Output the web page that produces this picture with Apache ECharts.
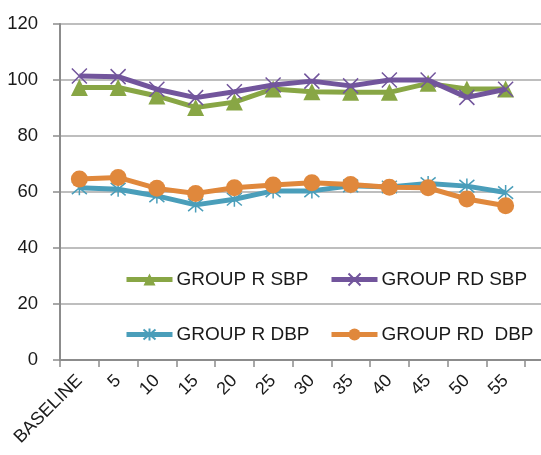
<!DOCTYPE html>
<html><head><meta charset="utf-8">
<script src="https://cdn.jsdelivr.net/npm/echarts@6/dist/echarts.min.js"></script>
<style>html,body{margin:0;padding:0;background:#fff}#c{width:541px;height:455px}</style>
</head><body><div id="c"></div>
<script>
var categories = ['BASELINE','5','10','15','20','25','30','35','40','45','50','55'];
var groupRSBP  = [97.3, 97.3, 94.3, 90.2, 92.1, 96.8, 95.8, 95.6, 95.6, 98.8, 96.8, 96.8];
var groupRDSBP = [101.4, 101.2, 96.7, 93.7, 95.8, 98.2, 99.6, 97.9, 100.0, 100.0, 93.8, 96.7];
var groupRDBP  = [61.5, 61.0, 58.6, 55.4, 57.4, 60.4, 60.4, 62.2, 61.8, 63.0, 62.1, 59.8];
var groupRDDBP = [64.6, 65.2, 61.3, 59.5, 61.5, 62.5, 63.3, 62.7, 61.7, 61.5, 57.5, 55.1];
var yTicks = [0, 20, 40, 60, 80, 100, 120];

var FONT = '"Liberation Sans Narrow","Arial Narrow","Liberation Sans",sans-serif';
var C_GREEN = '#88a645', C_PURPLE = '#72559c', C_BLUE = '#4a9eba', C_ORANGE = '#e0883c';
var X_SYM = 'path://M0,0 L10,10 M10,0 L0,10';
var STAR_SYM = 'path://M0,0 L10,10 M10,0 L0,10 M5,-1 L5,11';

function mkLegend(name, left, top) {
  return {
    data: [name], left: left, top: top, orient: 'horizontal',
    itemWidth: 46, itemHeight: 15, itemGap: 0, padding: 0,
    lineStyle: { width: 5 },
    textStyle: { fontFamily: FONT, fontSize: 19, color: '#1a1a1a', padding: [0,0,0,-1] },
    selectedMode: false
  };
}

var chart = echarts.init(document.getElementById('c'), null, { renderer: 'canvas' });
chart.setOption({
  animation: false,
  backgroundColor: '#fff',
  grid: [
    { left: 60, right: 16, top: 24, bottom: 95, containLabel: false },
    { left: 60, right: 0, top: 24, bottom: 95, containLabel: false }
  ],
  legend: [
    mkLegend('GROUP R SBP', 124, 270),
    mkLegend('GROUP RD SBP', 329, 270),
    mkLegend('GROUP R DBP', 124, 325),
    mkLegend('GROUP RD  DBP', 329, 325)
  ],
  xAxis: [
    {
      type: 'category', data: categories, gridIndex: 0, boundaryGap: true,
      axisLine: { show: true, lineStyle: { color: '#8c8c8c', width: 2 } },
      axisTick: { show: true, length: 7, inside: false, alignWithLabel: false, lineStyle: { color: '#8c8c8c', width: 1.5 } },
      axisLabel: { rotate: 45, margin: 18, interval: 0, fontFamily: FONT, fontSize: 18, color: '#1a1a1a' },
      splitLine: { show: false }
    },
    {
      type: 'value', gridIndex: 1, min: 0, max: 1,
      axisLine: { show: true, lineStyle: { color: '#8c8c8c', width: 2 } },
      axisTick: { show: false }, axisLabel: { show: false }, splitLine: { show: false }
    }
  ],
  yAxis: [
    {
      type: 'value', gridIndex: 0, min: yTicks[0], max: yTicks[yTicks.length-1], interval: 20,
      axisLine: { show: true, lineStyle: { color: '#8c8c8c', width: 2 } },
      axisTick: { show: true, length: 7, lineStyle: { color: '#8c8c8c', width: 1.5 } },
      axisLabel: { margin: 22, fontFamily: FONT, fontSize: 18.5, color: '#1a1a1a' },
      splitLine: { show: false }
    },
    {
      type: 'value', gridIndex: 1, min: yTicks[0], max: yTicks[yTicks.length-1], interval: 20,
      axisLine: { show: false }, axisTick: { show: false }, axisLabel: { show: false },
      splitLine: { show: true, lineStyle: { color: '#a8a8a8', width: 1.5 } }
    }
  ],
  series: [
    { name: 'GROUP R SBP', type: 'line', data: groupRSBP, xAxisIndex: 0, yAxisIndex: 0,
      symbol: 'triangle', symbolSize: 17, showAllSymbol: true,
      lineStyle: { color: C_GREEN, width: 5 }, itemStyle: { color: C_GREEN, borderWidth: 0 }, z: 3 },
    { name: 'GROUP RD SBP', type: 'line', data: groupRDSBP, xAxisIndex: 0, yAxisIndex: 0,
      symbol: X_SYM, symbolSize: 15, showAllSymbol: true,
      lineStyle: { color: C_PURPLE, width: 5 }, itemStyle: { color: C_PURPLE, borderColor: C_PURPLE, borderWidth: 1.5 }, z: 4 },
    { name: 'GROUP R DBP', type: 'line', data: groupRDBP, xAxisIndex: 0, yAxisIndex: 0,
      symbol: STAR_SYM, symbolSize: 15, showAllSymbol: true,
      lineStyle: { color: C_BLUE, width: 5 }, itemStyle: { color: C_BLUE, borderColor: C_BLUE, borderWidth: 1.5 }, z: 3 },
    { name: 'GROUP RD  DBP', type: 'line', data: groupRDDBP, xAxisIndex: 0, yAxisIndex: 0,
      symbol: 'circle', symbolSize: 17, showAllSymbol: true,
      lineStyle: { color: C_ORANGE, width: 5 }, itemStyle: { color: C_ORANGE, borderWidth: 0 }, z: 4 }
  ]
});
</script></body></html>
